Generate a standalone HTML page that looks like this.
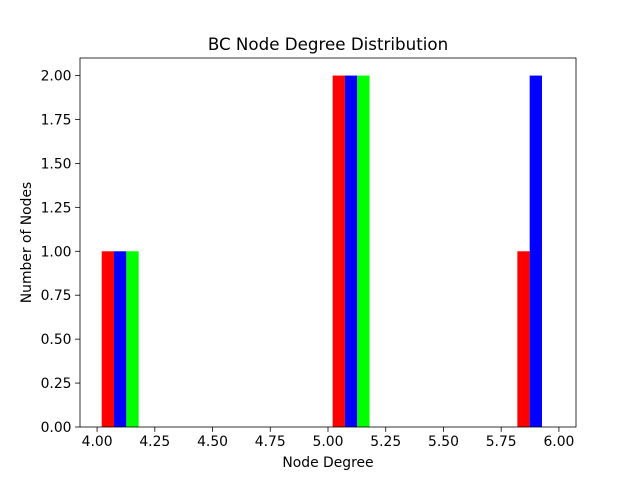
<!DOCTYPE html>
<html><head><meta charset="utf-8"><style>
body{margin:0;background:#fff;font-family:"DejaVu Sans","Liberation Sans",sans-serif;}
svg text{font-family:"DejaVu Sans","Liberation Sans",sans-serif;}
</style></head><body>
<svg id="c" width="640" height="480"></svg>
<script>
const binEdges=[4.0,4.2,4.4,4.6,4.8,5.0,5.2,5.4,5.6,5.8,6.0];
const redCounts=[1,0,0,0,0,2,0,0,0,1];
const blueCounts=[1,0,0,0,0,2,0,0,0,2];
const greenCounts=[1,0,0,0,0,2,0,0,0,0];
const seriesColors=["#ff0000","#0000ff","#00ff00"];
const xTicks=[4.0,4.25,4.5,4.75,5.0,5.25,5.5,5.75,6.0];
const yTicks=[0,0.25,0.5,0.75,1.0,1.25,1.5,1.75,2.0];
const L=80,R=576,T=58,B=427;
const xMin=3.926,xMax=6.074,yMin=0,yMax=2.1;
const sx=v=>L+(v-xMin)/(xMax-xMin)*(R-L);
const sy=v=>B-(v-yMin)/(yMax-yMin)*(B-T);
const svg=document.getElementById('c');
const NS="http://www.w3.org/2000/svg";
function mk(t,a,p){const e=document.createElementNS(NS,t);for(const k in a)e.setAttribute(k,a[k]);(p||svg).appendChild(e);return e;}
mk('rect',{x:0,y:0,width:640,height:480,fill:'#fff'});
const series=[redCounts,blueCounts,greenCounts];
series.forEach((s,si)=>{
  s.forEach((v,i)=>{
    if(v<=0)return;
    const bw=(binEdges[i+1]-binEdges[i])*0.8/3;
    const x0=binEdges[i]+(binEdges[i+1]-binEdges[i])*0.1+si*bw;
    const r=mk('rect',{x:sx(x0),y:sy(v),width:sx(x0+bw)-sx(x0),height:sy(0)-sy(v),fill:seriesColors[si]});
    
    
  });
});
const frame=mk('rect',{x:L,y:T,width:R-L,height:B-T,fill:'none',stroke:'#000','stroke-width':0.8});


xTicks.forEach(v=>{
  const x=sx(v);
  mk('line',{x1:x,x2:x,y1:B,y2:B+4.9,stroke:'#000','stroke-width':0.8});
  const t=mk('text',{x:x,y:B+19,'text-anchor':'middle','font-size':13.9});
  t.textContent=v.toFixed(2);
  
  
});
yTicks.forEach(v=>{
  const y=sy(v);
  mk('line',{x1:L,x2:L-4.9,y1:y,y2:y,stroke:'#000','stroke-width':0.8});
  const t=mk('text',{x:L-8.5,y:y+5,'text-anchor':'end','font-size':13.9});
  t.textContent=v.toFixed(2);
  
  
});
const title=mk('text',{x:(L+R)/2,y:50,'text-anchor':'middle','font-size':16.7});
title.textContent='BC Node Degree Distribution';


const xl=mk('text',{x:(L+R)/2,y:467,'text-anchor':'middle','font-size':13.9});
xl.textContent='Node Degree';


const yl=mk('text',{x:0,y:0,'text-anchor':'middle','font-size':13.9,transform:'translate(31,'+((T+B)/2)+') rotate(-90)'});
yl.textContent='Number of Nodes';


</script>
</body></html>
